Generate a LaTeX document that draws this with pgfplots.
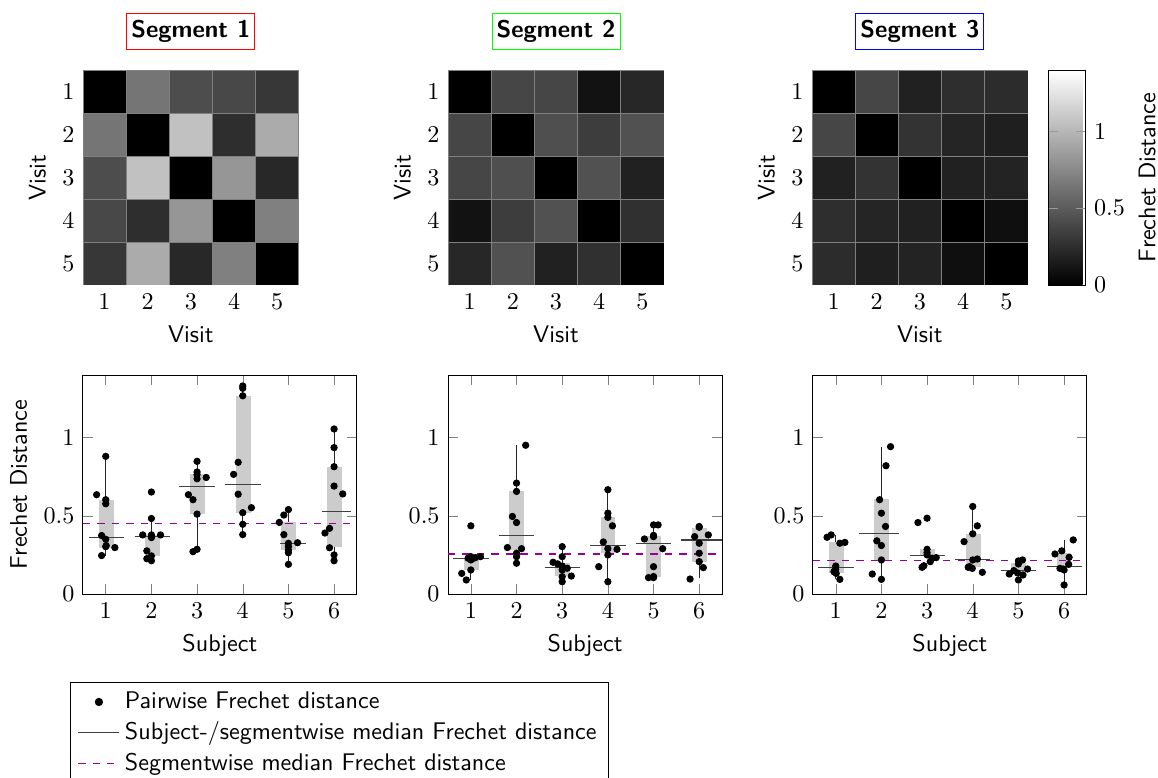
\documentclass[border=0pt]{standalone}
\usepackage{pgfplots}
\pgfplotsset{compat=1.18}
\definecolor{segmed}{RGB}{150,0,150}
\pgfplotsset{colormap={bwrgb}{rgb255(0cm)=(0,0,0); rgb255(1cm)=(255,255,255)}}
\newcommand{\bxbox}[4]{\addplot[fill=gray!40, draw=none, forget plot] coordinates {(#1,#3) (#2,#3) (#2,#4) (#1,#4)};}
\begin{document}
\begin{tikzpicture}
\pgfplotsset{
 heat/.style={scale only axis, width=89.6pt, height=89.2pt, xmin=0.5, xmax=5.5, ymin=0.5, ymax=5.5,
   y dir=reverse, enlargelimits=false, xtick={1,...,5}, ytick={1,...,5},
   axis line style={draw=none}, major tick length=0pt,
   colormap name=bwrgb, point meta min=0, point meta max=1.4,
   xlabel={\sffamily Visit}, ylabel={\sffamily Visit},
   title style={font=\sffamily\bfseries, yshift=2.2pt, inner xsep=1.9pt, inner ysep=2.95pt, text height=7pt, text depth=2pt}},
 bx/.style={scale only axis, width=113.7pt, height=90.9pt, xmin=0.5, xmax=6.5, ymin=0, ymax=1.4,
   xtick={1,...,6}, ytick={0,0.5,1}, xlabel={\sffamily Subject}, tick style={black!50}},
 wh/.style={black!85, line width=0.4pt, forget plot, unbounded coords=jump},
 md/.style={black!75, line width=0.5pt, forget plot, unbounded coords=jump},
 pts/.style={only marks, mark=*, mark size=1.3pt, black, forget plot},
 sm/.style={color=segmed, dashed, line width=0.5pt, forget plot},
 hm/.style={matrix plot*, mesh/cols=5, point meta=explicit, shader=faceted, faceted color=black!50, line width=0.3pt},
}
% ---------------- heatmaps ----------------
\begin{axis}[heat, at={(34.4pt,-29.05pt)}, anchor=north west, title={Segment 1}, title style={draw=red}]
\addplot[hm] table[meta=C] {
x y C
1 1 0
2 1 0.64
3 1 0.42
4 1 0.39
5 1 0.30
1 2 0.64
2 2 0
3 2 1.05
4 2 0.25
5 2 0.93
1 3 0.42
2 3 1.05
3 3 0
4 3 0.82
5 3 0.22
1 4 0.39
2 4 0.25
3 4 0.82
4 4 0
5 4 0.70
1 5 0.30
2 5 0.93
3 5 0.22
4 5 0.70
5 5 0
};
\end{axis}
\begin{axis}[heat, at={(185.9pt,-29.05pt)}, anchor=north west, title={Segment 2}, title style={draw=green}]
\addplot[hm] table[meta=C] {
x y C
1 1 0
2 1 0.38
3 1 0.38
4 1 0.10
5 1 0.21
1 2 0.38
2 2 0
3 2 0.43
4 2 0.33
5 2 0.44
1 3 0.38
2 3 0.43
3 3 0
4 3 0.44
5 3 0.18
1 4 0.10
2 4 0.33
3 4 0.44
4 4 0
5 4 0.26
1 5 0.21
2 5 0.44
3 5 0.18
4 5 0.26
5 5 0
};
\end{axis}
\begin{axis}[heat, at={(336.9pt,-29.05pt)}, anchor=north west, title={Segment 3}, title style={draw=blue},
  colorbar, colorbar style={width=15.4pt, at={(parent axis.north east)}, anchor=north west,
    ytick={0,0.5,1}, ylabel={\sffamily Frechet Distance}, ylabel style={yshift=1.2pt},
    major tick length=4pt, tick style={black!40}}]
\addplot[hm] table[meta=C] {
x y C
1 1 0
2 1 0.38
3 1 0.18
4 1 0.25
5 1 0.24
1 2 0.38
2 2 0
3 2 0.28
4 2 0.20
5 2 0.17
1 3 0.18
2 3 0.28
3 3 0
4 3 0.18
5 3 0.19
1 4 0.25
2 4 0.20
3 4 0.18
4 4 0
5 4 0.08
1 5 0.24
2 5 0.17
3 5 0.19
4 5 0.08
5 5 0
};
\end{axis}
% ---------------- box panels ----------------
\begin{axis}[bx, at={(34.4pt,-155.6pt)}, anchor=north west, ylabel={\sffamily Frechet Distance},
  legend style={at={(-0.047,-0.40)}, anchor=north west, font=\sffamily, draw=black, cells={anchor=west}}]
\addplot[wh] coordinates {(1,0.246)(1,0.88) (1,nan) (2,0.213)(2,0.483) (2,nan) (3,0.28)(3,0.848) (3,nan) (4,0.38)(4,1.33) (4,nan) (5,0.19)(5,0.54) (5,nan) (6,0.213)(6,1.055)};
\bxbox{0.85}{1.17}{0.297}{0.603}
\bxbox{1.86}{2.19}{0.244}{0.378}
\bxbox{2.85}{3.17}{0.511}{0.77}
\bxbox{3.85}{4.17}{0.52}{1.267}
\bxbox{4.84}{5.17}{0.28}{0.458}
\bxbox{5.84}{6.17}{0.30}{0.815}
\addplot[md] coordinates {(0.63,0.363)(1.39,0.363) (1,nan) (1.63,0.367)(2.40,0.367) (2,nan) (2.61,0.688)(3.40,0.688) (3,nan) (3.62,0.70)(4.39,0.70) (4,nan) (4.82,0.324)(5.39,0.324) (5,nan) (5.74,0.53)(6.38,0.53)};
\addplot[pts] coordinates {
(1.00,0.88)(0.80,0.635)(1.00,0.603)(1.00,0.577)(0.91,0.374)(1.00,0.35)(1.00,0.303)(1.20,0.297)(1.01,0.31)(0.91,0.246)
(2.00,0.652)(2.00,0.483)(1.81,0.378)(2.00,0.378)(2.20,0.378)(2.00,0.361)(1.90,0.276)(2.00,0.244)(1.90,0.226)(2.00,0.213)
(3.00,0.848)(3.00,0.78)(3.00,0.763)(3.00,0.737)(3.20,0.745)(2.81,0.635)(2.91,0.603)(3.00,0.511)(3.00,0.286)(2.91,0.271)
(4.00,1.33)(4.00,1.315)(4.00,1.267)(3.90,0.842)(3.80,0.765)(3.90,0.638)(4.00,0.52)(4.00,0.446)(4.19,0.552)(4.00,0.38)
(4.80,0.458)(4.90,0.505)(5.00,0.54)(4.90,0.38)(5.00,0.324)(5.00,0.303)(5.00,0.28)(5.00,0.264)(5.20,0.328)(5.00,0.19)
(6.00,1.055)(6.00,0.936)(6.00,0.814)(6.00,0.69)(6.19,0.64)(5.90,0.42)(5.80,0.39)(5.90,0.296)(6.00,0.25)(6.00,0.213)};
\addplot[sm] coordinates {(0.5,0.452)(6.5,0.452)};
\addlegendimage{only marks, mark=*, mark size=1.5pt, black}
\addlegendentry{Pairwise Frechet distance}
\addlegendimage{black!75, line width=0.5pt}
\addlegendentry{Subject-/segmentwise median Frechet distance}
\addlegendimage{color=segmed, dashed, line width=0.5pt}
\addlegendentry{Segmentwise median Frechet distance}
\end{axis}
\begin{axis}[bx, at={(185.9pt,-155.6pt)}, anchor=north west]
\addplot[wh] coordinates {(1,0.09)(1,0.24) (1,nan) (2,0.197)(2,0.951) (2,nan) (3,0.079)(3,0.303) (3,nan) (4,0.079)(4,0.667) (4,nan) (5,0.107)(5,0.442) (5,nan) (6,0.10)(6,0.427)};
\bxbox{0.85}{1.18}{0.154}{0.23}
\bxbox{1.84}{2.17}{0.28}{0.656}
\bxbox{2.84}{3.17}{0.115}{0.20}
\bxbox{3.85}{4.16}{0.26}{0.49}
\bxbox{4.84}{5.17}{0.107}{0.37}
\bxbox{5.84}{6.17}{0.207}{0.42}
\addplot[md] coordinates {(0.61,0.229)(1.39,0.229) (1,nan) (1.61,0.374)(2.39,0.374) (2,nan) (2.62,0.169)(3.40,0.169) (3,nan) (3.61,0.31)(4.39,0.31) (4,nan) (4.61,0.325)(5.39,0.325) (5,nan) (5.61,0.346)(6.50,0.346)};
\addplot[pts] coordinates {
(1.00,0.436)(1.00,0.239)(1.00,0.218)(1.10,0.233)(1.21,0.239)(0.94,0.229)(1.00,0.154)(0.80,0.132)(0.90,0.09)(1.04,0.226)
(2.20,0.951)(2.00,0.709)(2.00,0.656)(1.91,0.496)(2.00,0.457)(1.80,0.297)(2.11,0.29)(2.00,0.261)(2.00,0.239)(2.00,0.197)
(3.00,0.303)(3.00,0.239)(2.80,0.203)(2.90,0.193)(3.00,0.179)(3.11,0.165)(3.00,0.154)(3.00,0.111)(3.00,0.079)(3.20,0.115)
(4.00,0.667)(4.00,0.517)(4.00,0.49)(4.10,0.436)(3.90,0.333)(4.00,0.29)(4.20,0.286)(4.00,0.25)(3.80,0.175)(4.00,0.079)
(5.00,0.442)(5.10,0.442)(5.00,0.367)(5.00,0.375)(4.80,0.352)(5.20,0.29)(5.00,0.175)(4.89,0.105)(5.00,0.105)(5.00,0.112)
(6.00,0.427)(6.00,0.432)(5.90,0.367)(6.20,0.378)(6.00,0.325)(6.00,0.261)(6.00,0.207)(6.09,0.169)(5.80,0.096)};
\addplot[sm] coordinates {(0.5,0.256)(6.5,0.256)};
\end{axis}
\begin{axis}[bx, at={(337.3pt,-155.6pt)}, anchor=north west]
\addplot[wh] coordinates {(1,0.094)(1,0.377) (1,nan) (2,0.094)(2,0.942) (2,nan) (3,0.24)(3,0.286) (3,nan) (4,0.139)(4,0.56) (4,nan) (5,0.09)(5,0.20) (5,nan) (6,0.058)(6,0.346)};
\bxbox{0.85}{1.18}{0.135}{0.33}
\bxbox{1.84}{2.17}{0.218}{0.607}
\bxbox{2.84}{3.17}{0.243}{0.286}
\bxbox{3.85}{4.17}{0.175}{0.385}
\bxbox{4.83}{5.16}{0.14}{0.20}
\bxbox{5.84}{6.16}{0.164}{0.26}
\addplot[md] coordinates {(0.61,0.171)(1.40,0.171) (1,nan) (1.51,0.385)(2.39,0.385) (2,nan) (2.62,0.244)(3.39,0.244) (3,nan) (3.62,0.222)(4.38,0.222) (4,nan) (4.61,0.15)(5.39,0.15) (5,nan) (5.62,0.175)(6.40,0.175)};
\addplot[pts] coordinates {
(0.81,0.363)(0.90,0.378)(1.09,0.325)(1.20,0.33)(1.00,0.179)(1.00,0.158)(0.96,0.143)(1.01,0.132)(1.09,0.094)(0.98,0.15)
(2.20,0.942)(2.10,0.82)(1.96,0.603)(2.00,0.517)(2.09,0.432)(1.90,0.34)(2.00,0.31)(2.00,0.218)(1.80,0.128)(2.00,0.094)
(2.80,0.457)(3.00,0.485)(3.00,0.286)(3.00,0.265)(3.11,0.229)(3.20,0.233)(3.07,0.207)(2.93,0.181)(2.89,0.171)(3.00,0.25)
(4.00,0.56)(4.10,0.436)(4.00,0.385)(3.81,0.335)(4.00,0.218)(4.10,0.224)(3.90,0.171)(3.99,0.164)(4.21,0.139)(3.93,0.175)
(5.00,0.212)(5.09,0.218)(5.00,0.192)(4.90,0.15)(4.80,0.128)(4.98,0.135)(5.10,0.122)(5.20,0.160)(5.00,0.09)
(5.80,0.256)(5.95,0.276)(6.20,0.346)(6.11,0.235)(6.10,0.19)(5.91,0.164)(6.00,0.154)(5.98,0.16)(6.00,0.058)};
\addplot[sm] coordinates {(0.5,0.215)(6.5,0.215)};
\end{axis}
\pgfresetboundingbox
\useasboundingbox (0,0) rectangle (480.5pt,-322.8pt);
\end{tikzpicture}
\end{document}
